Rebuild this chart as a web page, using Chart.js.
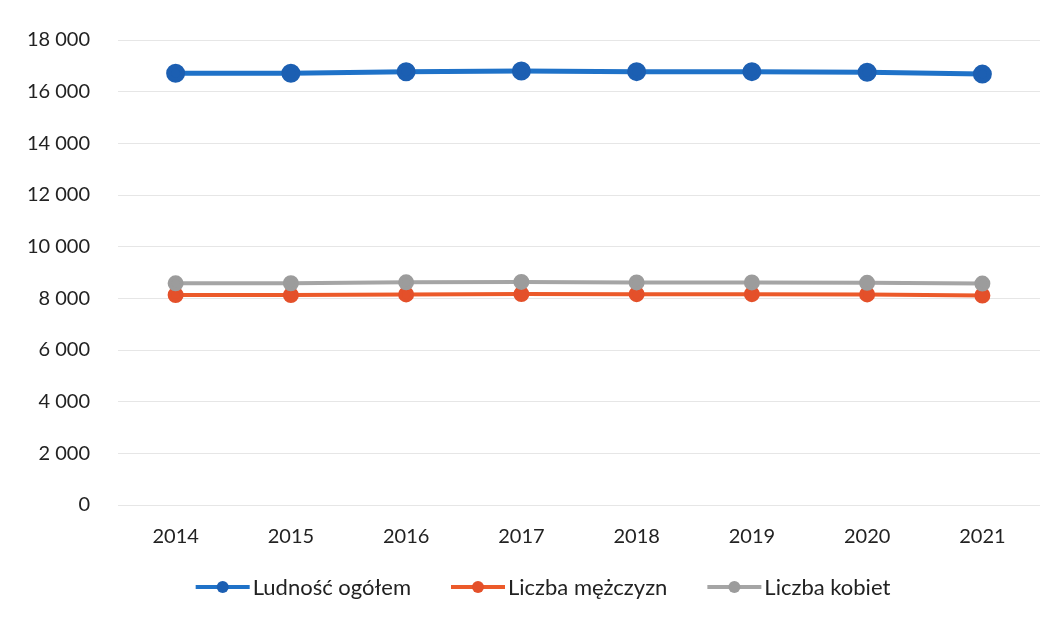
<!DOCTYPE html>
<html>
<head>
<meta charset="utf-8">
<script src="https://cdn.jsdelivr.net/npm/chart.js@4"></script>
<style>
html,body{margin:0;padding:0;background:#fff;}
#wrap{width:1056px;height:618px;position:relative;}
</style>
</head>
<body>
<div id="wrap"><canvas id="c" width="1056" height="618"></canvas></div>
<script>
const years = ['2014','2015','2016','2017','2018','2019','2020','2021'];
const seriesNames = ['Ludność ogółem','Liczba mężczyzn','Liczba kobiet'];
const ludnosc = [16710, 16710, 16770, 16800, 16775, 16775, 16750, 16680];
const mezczyzni = [8130, 8125, 8150, 8165, 8160, 8160, 8150, 8110];
const kobiety = [8580, 8585, 8620, 8635, 8615, 8615, 8600, 8570];
const yTicks = [0, 2000, 4000, 6000, 8000, 10000, 12000, 14000, 16000, 18000];

const FONT = 'Lato, "Open Sans", sans-serif';
const lineColors = ['#1f72c8', '#ec5a2a', '#a5a5a5'];
const pointColors = ['#1c5fb2', '#e4502a', '#9c9c9c'];

function fmt(v) {
  return String(v).replace(/\B(?=(\d{3})+(?!\d))/g, ' ');
}

// custom legend drawn below the axis
const LEG = { centerX: 543, y: 587, lineLen: 54, gapText: 3, gapItem: 40, font: '22px ' + FONT, color: '#222' };
const customLegend = {
  id: 'customLegend',
  afterDraw(chart) {
    const ctx = chart.ctx;
    ctx.save();
    ctx.font = LEG.font;
    ctx.textBaseline = 'middle';
    ctx.textAlign = 'left';
    const items = chart.data.datasets.map(ds => ({ ds, w: ctx.measureText(ds.label).width }));
    const total = items.reduce((a, it) => a + LEG.lineLen + LEG.gapText + it.w, 0) + LEG.gapItem * (items.length - 1);
    let x = LEG.centerX - total / 2;
    items.forEach(it => {
      ctx.strokeStyle = it.ds.borderColor;
      ctx.lineWidth = 4;
      ctx.beginPath(); ctx.moveTo(x, LEG.y); ctx.lineTo(x + LEG.lineLen, LEG.y); ctx.stroke();
      ctx.fillStyle = it.ds.pointBackgroundColor;
      ctx.beginPath(); ctx.arc(x + LEG.lineLen / 2, LEG.y, 6, 0, Math.PI * 2); ctx.fill();
      ctx.fillStyle = LEG.color;
      ctx.fillText(it.ds.label, x + LEG.lineLen + LEG.gapText, LEG.y + 1);
      x += LEG.lineLen + LEG.gapText + it.w + LEG.gapItem;
    });
    ctx.restore();
  }
};

const data = {
  labels: years,
  datasets: [
    { label: seriesNames[0], data: ludnosc, borderColor: lineColors[0], backgroundColor: pointColors[0],
      pointBackgroundColor: pointColors[0], pointBorderColor: pointColors[0], borderWidth: 5, pointRadius: 7, order: 0 },
    { label: seriesNames[1], data: mezczyzni, borderColor: lineColors[1], backgroundColor: pointColors[1],
      pointBackgroundColor: pointColors[1], pointBorderColor: pointColors[1], borderWidth: 4, pointRadius: 6, order: 2 },
    { label: seriesNames[2], data: kobiety, borderColor: lineColors[2], backgroundColor: pointColors[2],
      pointBackgroundColor: pointColors[2], pointBorderColor: pointColors[2], borderWidth: 4, pointRadius: 6, order: 1 }
  ]
};

new Chart(document.getElementById('c'), {
  type: 'line',
  data: data,
  plugins: [customLegend],
  options: {
    responsive: false,
    animation: false,
    devicePixelRatio: 1,
    layout: { padding: { left: 0, right: 16, top: 40, bottom: 49 } },
    plugins: {
      title: { display: false },
      tooltip: { enabled: false },
      legend: { display: false }
    },
    scales: {
      x: {
        offset: true,
        grid: { display: false, drawTicks: false },
        border: { display: false },
        ticks: { padding: 20, color: '#222', font: { family: FONT, size: 20 } }
      },
      y: {
        min: 0, max: 18000,
        afterBuildTicks: (s) => { s.ticks = yTicks.map(v => ({ value: v })); },
        afterFit: (s) => { s.width = 118; },
        grid: { color: '#e6e6e6', lineWidth: 1, drawTicks: false },
        border: { display: false },
        ticks: { padding: 28, color: '#222', font: { family: FONT, size: 20 }, callback: (v) => fmt(v) }
      }
    }
  }
});
</script>
</body>
</html>
